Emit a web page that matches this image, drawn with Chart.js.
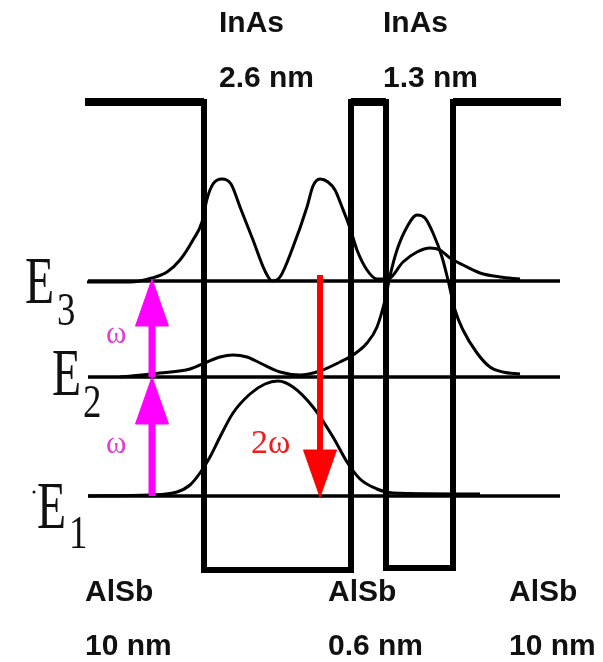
<!DOCTYPE html>
<html>
<head>
<meta charset="utf-8">
<script src="https://cdn.jsdelivr.net/npm/chart.js@4.4.1/dist/chart.umd.min.js"></script>
<style>
  html, body { margin: 0; padding: 0; background: #fff; }
  canvas { display: block; }
</style>
</head>
<body>
<canvas id="wellChart" width="603" height="662"></canvas>
<script>
// values (x = position, y = energy, drawn top-down)
const wellX = [85, 204, 204, 351, 351, 386, 386, 453, 453, 561];
const wellY = [102, 102, 570, 570, 102, 102, 568, 568, 102, 102];

const levelNames = ['E1', 'E2', 'E3'];
const levelY = [496, 377, 281];
const levelX = [88, 560];

const psi1X = [88, 150, 177, 190, 200, 210, 220, 233, 250, 265, 278, 293, 313, 333, 347, 360, 377, 393, 480];
const psi1Y = [496, 495, 492, 485, 473, 457, 437, 413, 394, 384, 381, 387, 407, 437, 462, 479, 489, 493, 494];

const psi2X = [120, 160, 190, 207, 220, 233, 247, 260, 280, 300, 320, 340, 353, 367, 377, 385, 390, 397, 407, 417, 425, 433, 442, 448, 455, 463, 477, 490, 503, 520];
const psi2Y = [377, 373, 369, 362, 357, 355, 357, 363, 372, 375, 371, 362, 355, 343, 327, 300, 276, 250, 227, 215, 218, 233, 257, 280, 310, 330, 353, 367, 372, 374];

const psi3X = [87, 130, 152, 167, 180, 193, 202, 207, 213, 222, 231, 240, 253, 265, 272, 280, 293, 307, 313, 320, 328, 335, 342, 350, 357, 367, 377, 388, 403, 417, 430, 440, 450, 463, 480, 500, 520];
const psi3Y = [282, 282, 278, 272, 260, 240, 222, 199, 184, 179, 184, 207, 240, 271, 281, 277, 247, 207, 186, 179, 182, 190, 207, 228, 250, 270, 279, 279, 262, 252, 248, 250, 258, 265, 273, 277, 279];

// pump photons (E1->E2, E2->E3) and the emitted 2w photon (E3->E1)
const pumpX = 152;
const pumpFrom = [496, 377];
const pumpTo = [377, 279];
const emitX = 320;
const emitFrom = 275;
const emitTo = 497;

const layerTop = ['InAs', 'InAs'];
const layerTopWidth = ['2.6 nm', '1.3 nm'];
const layerTopX = [219, 383];
const layerBottom = ['AlSb', 'AlSb', 'AlSb'];
const layerBottomWidth = ['10 nm', '0.6 nm', '10 nm'];
const layerBottomX = [85, 328, 509];

const HEAD_LEN = 47, HEAD_HALF = 16.5;

function xy(xs, ys) { return xs.map((x, i) => ({ x: x, y: ys[i] })); }

function shaft(x, from, to, color, width) {
    // stop the shaft at the base of the head
    const dir = to > from ? 1 : -1;
    return { data: [{ x: x, y: from }, { x: x, y: to - dir * HEAD_LEN }], borderColor: color, borderWidth: width, order: 0, borderCapStyle: 'butt' };
}
function head(x, from, to, color) {
    const dir = to > from ? 1 : -1;
    const base = to - dir * HEAD_LEN;
    return {
        data: [{ x: x - HEAD_HALF, y: base }, { x: x, y: to }, { x: x + HEAD_HALF, y: base }, { x: x - HEAD_HALF, y: base }],
        borderColor: color, backgroundColor: color, borderWidth: 1, fill: 'shape', order: 0
    };
}

const datasets = [];
datasets.push({ data: xy(wellX, wellY), borderColor: '#000', borderWidth: 6, order: 3, borderJoinStyle: 'miter' });
// barrier tops are drawn a little heavier in the figure
for (let i = 0; i < wellX.length - 1; i++) {
    if (wellY[i] === wellY[i + 1] && wellY[i] < 300) {
        datasets.push({ data: xy([wellX[i], wellX[i + 1]], [wellY[i], wellY[i + 1]]), borderColor: '#000', borderWidth: 8, order: 3 });
    }
}
levelY.forEach(y => {
    datasets.push({ data: xy(levelX, [y, y]), borderColor: '#000', borderWidth: 3.5, order: 2 });
});
[[psi1X, psi1Y], [psi2X, psi2Y], [psi3X, psi3Y]].forEach(([xs, ys]) => {
    datasets.push({ data: xy(xs, ys), borderColor: '#000', borderWidth: 3, cubicInterpolationMode: 'monotone', order: 1 });
});
pumpFrom.forEach((from, i) => {
    datasets.push(shaft(pumpX, from, pumpTo[i], '#ff00ff', 7));
    datasets.push(head(pumpX, from, pumpTo[i], '#ff00ff'));
});
datasets.push(shaft(emitX, emitFrom, emitTo, '#ff0000', 6));
datasets.push(head(emitX, emitFrom, emitTo, '#ff0000'));

const labelPlugin = {
    id: 'labels',
    beforeDraw(chart) {
        const c = chart.ctx;
        c.save();
        c.fillStyle = '#fff';
        c.fillRect(0, 0, chart.width, chart.height);
        c.restore();
    },
    afterDraw(chart) {
        const c = chart.ctx, sx = chart.scales.x, sy = chart.scales.y;
        const px = v => sx.getPixelForValue(v), py = v => sy.getPixelForValue(v);
        c.save();
        c.textBaseline = 'alphabetic';
        c.textAlign = 'left';
        c.fillStyle = '#111';
        c.font = 'bold 30px "Liberation Sans", Arial, sans-serif';
        layerTop.forEach((t, i) => {
            c.fillText(t, px(layerTopX[i]), py(32));
            c.fillText(layerTopWidth[i], px(layerTopX[i]), py(87));
        });
        layerBottom.forEach((t, i) => {
            c.fillText(t, px(layerBottomX[i]), py(601));
            c.fillText(layerBottomWidth[i], px(layerBottomX[i]), py(655));
        });

        // level names: condensed serif E with subscript
        const eX = [37, 52, 25], eBase = [528, 395, 303];
        const subX = [69, 83, 57], subBase = [548, 417, 325];
        levelNames.forEach((name, i) => {
            c.save();
            c.translate(px(eX[i]), py(eBase[i]));
            c.scale(0.7, 1);
            c.font = '68px "Liberation Serif", serif';
            c.fillText(name[0], 0, 0);
            c.restore();
            c.save();
            c.translate(px(subX[i]), py(subBase[i]));
            c.scale(0.8, 1);
            c.font = '46px "Liberation Serif", serif';
            c.fillText(name.slice(1), 0, 0);
            c.restore();
        });
        c.beginPath();
        c.arc(px(34), py(492), 1.5, 0, Math.PI * 2);
        c.fill();

        c.font = '31px "Liberation Serif", serif';
        c.fillStyle = '#e23fd2';
        c.fillText('\u03c9', px(106), py(343));
        c.fillText('\u03c9', px(106), py(453));
        c.font = '34px "Liberation Serif", serif';
        c.fillStyle = '#ee1c1c';
        c.fillText('2\u03c9', px(251), py(453));
        c.restore();
    }
};

new Chart(document.getElementById('wellChart'), {
    type: 'scatter',
    data: { datasets: datasets.map(d => Object.assign({ showLine: true, pointRadius: 0, fill: false, tension: 0 }, d)) },
    options: {
        responsive: false,
        animation: false,
        events: [],
        layout: { padding: 0 },
        plugins: { legend: { display: false }, tooltip: { enabled: false } },
        scales: {
            x: { type: 'linear', min: 0, max: 603, display: false },
            y: { type: 'linear', min: 0, max: 662, reverse: true, display: false }
        }
    },
    plugins: [labelPlugin]
});
</script>
</body>
</html>
